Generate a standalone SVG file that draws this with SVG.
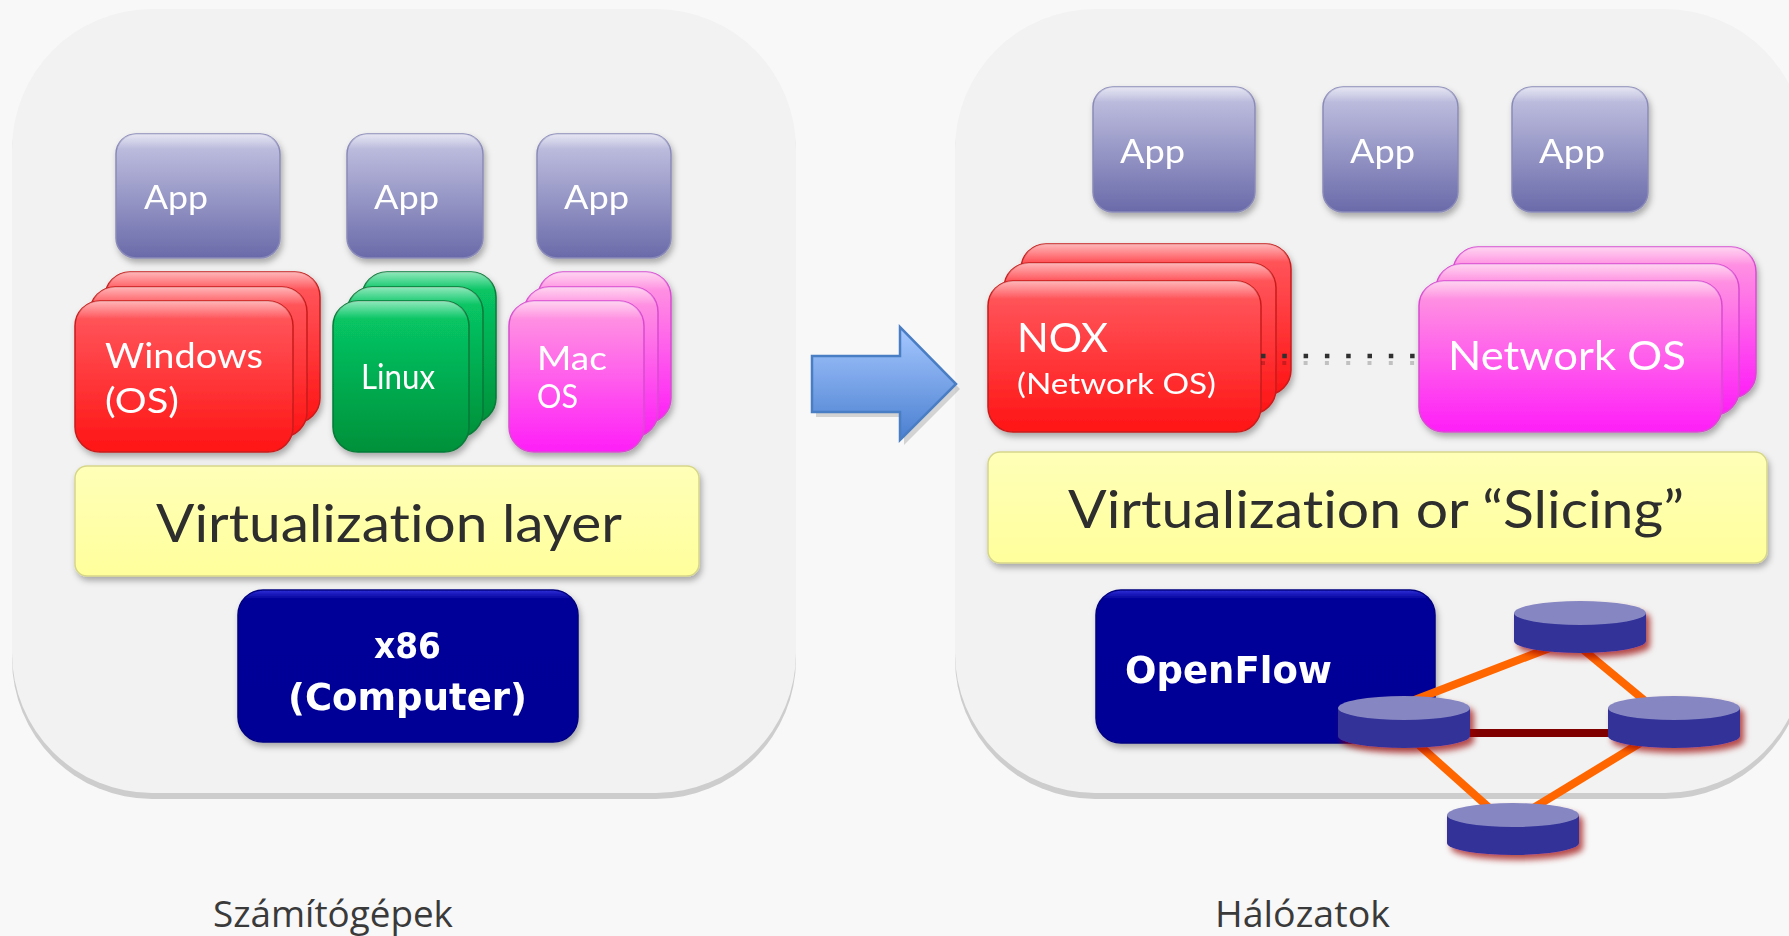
<svg xmlns="http://www.w3.org/2000/svg" width="1789" height="936" viewBox="0 0 1789 936">
<defs>
<linearGradient id="gApp" x1="0" y1="0" x2="0" y2="1"><stop offset="0" stop-color="#c6c6e4"/><stop offset="1" stop-color="#6a6aaa"/></linearGradient>
<linearGradient id="gRed" x1="0" y1="0" x2="0" y2="1"><stop offset="0" stop-color="#ff5c62"/><stop offset="1" stop-color="#ff1414"/></linearGradient>
<linearGradient id="gGreen" x1="0" y1="0" x2="0" y2="1"><stop offset="0" stop-color="#08cc6a"/><stop offset="1" stop-color="#00913a"/></linearGradient>
<linearGradient id="gPink" x1="0" y1="0" x2="0" y2="1"><stop offset="0" stop-color="#ff9fdf"/><stop offset="1" stop-color="#ff1ef8"/></linearGradient>
<linearGradient id="gNavy" x1="0" y1="0" x2="0" y2="1"><stop offset="0" stop-color="#3030d8"/><stop offset="0.06" stop-color="#000099"/><stop offset="1" stop-color="#000096"/></linearGradient>
<linearGradient id="gYel" x1="0" y1="0" x2="0" y2="1"><stop offset="0" stop-color="#ffffb8"/><stop offset="1" stop-color="#ffff9c"/></linearGradient>
<linearGradient id="gHi" x1="0" y1="0" x2="0" y2="1"><stop offset="0" stop-color="#ffffff" stop-opacity="0.55"/><stop offset="0.12" stop-color="#ffffff" stop-opacity="0"/></linearGradient>
<linearGradient id="gArrow" x1="0" y1="0" x2="0" y2="1"><stop offset="0" stop-color="#a6c8ff"/><stop offset="1" stop-color="#4a7fd0"/></linearGradient>
<filter id="sh" x="-10%" y="-10%" width="125%" height="130%"><feDropShadow dx="2" dy="4" stdDeviation="3" flood-color="#000" flood-opacity="0.3"/></filter>
<filter id="glow" x="-15%" y="-30%" width="135%" height="170%"><feDropShadow dx="4" dy="5" stdDeviation="3" flood-color="#990000" flood-opacity="0.7"/></filter>
</defs>
<style>
text{font-variant-ligatures:none;font-feature-settings:"liga" 0}
.card{stroke-width:1.5}
.app{fill:url(#gApp);stroke:#8a8ab8}
.red{fill:url(#gRed);stroke:#c81c1c}
.green{fill:url(#gGreen);stroke:#087a38}
.pink{fill:url(#gPink);stroke:#d84cd0}
.navy{fill:url(#gNavy);stroke:#000080}
.yel{fill:url(#gYel);stroke:#d6d68a}
.hi{fill:url(#gHi)}
.t{font-family:Lato,"DejaVu Sans",sans-serif;fill:#ffffff}
.dk{font-family:Lato,"DejaVu Sans",sans-serif;fill:#2e2e2e}
.b{font-family:"DejaVu Sans",sans-serif;font-weight:bold;fill:#ffffff}
.lbl{font-family:"Open Sans","Noto Sans",sans-serif;fill:#3a3a3a;font-size:36px}
.link{stroke:#ff6600;stroke-width:8;fill:none}
.body{fill:#333399}
.top{fill:#8686c2}
</style>
<rect width="1789" height="936" fill="#f8f8f8"/>

<!-- panels -->
<g id="panel-left">
<rect x="12" y="15" width="784" height="784" rx="140" fill="#cdcdcd"/>
<rect x="12" y="9" width="784" height="784" rx="140" fill="#f2f2f2"/>
</g>
<g id="panel-right">
<rect x="955" y="15" width="850" height="784" rx="140" fill="#cdcdcd"/>
<rect x="955" y="9" width="850" height="784" rx="140" fill="#f2f2f2"/>
</g>

<!-- left apps -->
<g id="app-l1" filter="url(#sh)"><rect class="card app" x="116" y="134" width="164" height="124" rx="20"/><rect class="hi" x="116" y="134" width="164" height="124" rx="20"/><text class="t" x="144" y="209" font-size="32" textLength="64" lengthAdjust="spacingAndGlyphs">App</text></g>
<g id="app-l2" filter="url(#sh)"><rect class="card app" x="347" y="134" width="136" height="124" rx="20"/><rect class="hi" x="347" y="134" width="136" height="124" rx="20"/><text class="t" x="374" y="209" font-size="32" textLength="65" lengthAdjust="spacingAndGlyphs">App</text></g>
<g id="app-l3" filter="url(#sh)"><rect class="card app" x="537" y="134" width="134" height="124" rx="20"/><rect class="hi" x="537" y="134" width="134" height="124" rx="20"/><text class="t" x="564" y="209" font-size="32" textLength="65" lengthAdjust="spacingAndGlyphs">App</text></g>

<!-- Windows stack -->
<g id="windows" filter="url(#sh)">
<rect class="card red" x="105" y="272" width="215" height="151" rx="25"/><rect class="hi" x="105" y="272" width="215" height="151" rx="25"/>
<rect class="card red" x="90" y="287" width="217" height="150" rx="25"/><rect class="hi" x="90" y="287" width="217" height="150" rx="25"/>
<rect class="card red" x="75" y="301" width="218" height="151" rx="25"/><rect class="hi" x="75" y="301" width="218" height="151" rx="25"/>
<text class="t" x="105" y="368" font-size="35" textLength="158" lengthAdjust="spacingAndGlyphs">Windows</text>
<text class="t" x="105" y="413" font-size="35" textLength="74" lengthAdjust="spacingAndGlyphs">(OS)</text>
</g>
<!-- Linux stack -->
<g id="linux" filter="url(#sh)">
<rect class="card green" x="362" y="272" width="134" height="151" rx="25"/><rect class="hi" x="362" y="272" width="134" height="151" rx="25"/>
<rect class="card green" x="347" y="287" width="136" height="150" rx="25"/><rect class="hi" x="347" y="287" width="136" height="150" rx="25"/>
<rect class="card green" x="333" y="301" width="136" height="151" rx="25"/><rect class="hi" x="333" y="301" width="136" height="151" rx="25"/>
<text class="t" x="361" y="389" font-size="34" textLength="74" lengthAdjust="spacingAndGlyphs">Linux</text>
</g>
<!-- Mac stack -->
<g id="macos" filter="url(#sh)">
<rect class="card pink" x="538" y="272" width="133" height="151" rx="25"/><rect class="hi" x="538" y="272" width="133" height="151" rx="25"/>
<rect class="card pink" x="524" y="287" width="134" height="150" rx="25"/><rect class="hi" x="524" y="287" width="134" height="150" rx="25"/>
<rect class="card pink" x="509" y="301" width="135" height="151" rx="25"/><rect class="hi" x="509" y="301" width="135" height="151" rx="25"/>
<text class="t" x="537" y="370" font-size="32" textLength="70" lengthAdjust="spacingAndGlyphs">Mac</text>
<text class="t" x="537" y="408" font-size="32" textLength="41" lengthAdjust="spacingAndGlyphs">OS</text>
</g>

<g id="virt-left" filter="url(#sh)"><rect class="card yel" x="75" y="466" width="624" height="110" rx="12"/><text class="dk" x="156" y="542" font-size="52" textLength="466" lengthAdjust="spacingAndGlyphs">Virtualization layer</text></g>
<g id="x86" filter="url(#sh)"><rect class="card navy" x="238" y="590" width="340" height="152" rx="25"/>
<text class="b" x="374" y="658" font-size="36" textLength="67" lengthAdjust="spacingAndGlyphs">x86</text>
<text class="b" x="288" y="710" font-size="38" textLength="239" lengthAdjust="spacingAndGlyphs">(Computer)</text></g>

<!-- arrow -->
<g id="arrow">
<path d="M816,361 H904 V332 L960,389 L904,445 V417 H816 Z" fill="#000" opacity="0.15"/>
<path d="M812,356 H900 V327 L956,384 L900,440 V412 H812 Z" fill="url(#gArrow)" stroke="#4a7ec4" stroke-width="2.5" stroke-linejoin="miter"/>
</g>

<!-- right apps -->
<g id="app-r1" filter="url(#sh)"><rect class="card app" x="1093" y="87" width="162" height="125" rx="20"/><rect class="hi" x="1093" y="87" width="162" height="125" rx="20"/><text class="t" x="1120" y="163" font-size="32" textLength="65" lengthAdjust="spacingAndGlyphs">App</text></g>
<g id="app-r2" filter="url(#sh)"><rect class="card app" x="1323" y="87" width="135" height="125" rx="20"/><rect class="hi" x="1323" y="87" width="135" height="125" rx="20"/><text class="t" x="1350" y="163" font-size="32" textLength="65" lengthAdjust="spacingAndGlyphs">App</text></g>
<g id="app-r3" filter="url(#sh)"><rect class="card app" x="1512" y="87" width="136" height="125" rx="20"/><rect class="hi" x="1512" y="87" width="136" height="125" rx="20"/><text class="t" x="1539" y="163" font-size="32" textLength="66" lengthAdjust="spacingAndGlyphs">App</text></g>

<!-- NOX stack -->
<g id="nox" filter="url(#sh)">
<rect class="card red" x="1021" y="244" width="270" height="151" rx="25"/><rect class="hi" x="1021" y="244" width="270" height="151" rx="25"/>
<rect class="card red" x="1004" y="263" width="272" height="151" rx="25"/><rect class="hi" x="1004" y="263" width="272" height="151" rx="25"/>
<rect class="card red" x="988" y="281" width="273" height="151" rx="25"/><rect class="hi" x="988" y="281" width="273" height="151" rx="25"/>
<text class="t" x="1017" y="352" font-size="40" textLength="91" lengthAdjust="spacingAndGlyphs">NOX</text>
<text class="t" x="1017" y="394" font-size="29" textLength="199" lengthAdjust="spacingAndGlyphs">(Network OS)</text>
</g>
<!-- Network OS stack -->
<g id="netos" filter="url(#sh)">
<rect class="card pink" x="1453" y="247" width="303" height="151" rx="25"/><rect class="hi" x="1453" y="247" width="303" height="151" rx="25"/>
<rect class="card pink" x="1436" y="264" width="303" height="151" rx="25"/><rect class="hi" x="1436" y="264" width="303" height="151" rx="25"/>
<rect class="card pink" x="1419" y="281" width="303" height="151" rx="25"/><rect class="hi" x="1419" y="281" width="303" height="151" rx="25"/>
<text class="t" x="1448" y="370" font-size="40" textLength="238" lengthAdjust="spacingAndGlyphs">Network OS</text>
</g>

<g id="virt-right" filter="url(#sh)"><rect class="card yel" x="988" y="452" width="779" height="111" rx="12"/><text class="dk" x="1068" y="528" font-size="52" textLength="616" lengthAdjust="spacingAndGlyphs">Virtualization or “Slicing”</text></g>

<g id="openflow" filter="url(#sh)"><rect class="card navy" x="1096" y="590" width="339" height="153" rx="25"/>
<text class="b" x="1125" y="683" font-size="38" textLength="207" lengthAdjust="spacingAndGlyphs">OpenFlow</text></g>

<!-- connectors -->
<g id="connectors">
<line x1="1261" y1="358" x2="1418" y2="358" stroke="#000" stroke-opacity="0.2" stroke-width="4" stroke-dasharray="4 17.3" transform="translate(0,5)"/>
<line x1="1261" y1="356" x2="1418" y2="356" stroke="#303030" stroke-width="4.5" stroke-dasharray="4.5 16.8"/>
<line class="link" x1="1404" y1="704" x2="1560" y2="644"/>
<line class="link" x1="1580" y1="647" x2="1650" y2="705"/>
<line x1="1440" y1="733" x2="1640" y2="733" stroke="#800000" stroke-width="8"/>
<line class="link" x1="1410" y1="737" x2="1495" y2="813"/>
<line class="link" x1="1650" y1="737" x2="1525" y2="813"/>
</g>

<!-- switches -->
<g id="sw-top" filter="url(#glow)"><path class="body" d="M1514,613 V641 A66,12 0 0 0 1646,641 V613 Z"/><ellipse class="top" cx="1580" cy="613" rx="66" ry="12"/></g>
<g id="sw-left" filter="url(#glow)"><path class="body" d="M1338,708 V736 A66,12 0 0 0 1470,736 V708 Z"/><ellipse class="top" cx="1404" cy="708" rx="66" ry="12"/></g>
<g id="sw-right" filter="url(#glow)"><path class="body" d="M1608,708 V736 A66,12 0 0 0 1740,736 V708 Z"/><ellipse class="top" cx="1674" cy="708" rx="66" ry="12"/></g>
<g id="sw-bottom" filter="url(#glow)"><path class="body" d="M1447,815 V843 A66,12 0 0 0 1579,843 V815 Z"/><ellipse class="top" cx="1513" cy="815" rx="66" ry="12"/></g>

<text class="lbl" x="213" y="927" textLength="240" lengthAdjust="spacingAndGlyphs">Számítógépek</text>
<text class="lbl" x="1215" y="927" textLength="175" lengthAdjust="spacingAndGlyphs">Hálózatok</text>
</svg>
